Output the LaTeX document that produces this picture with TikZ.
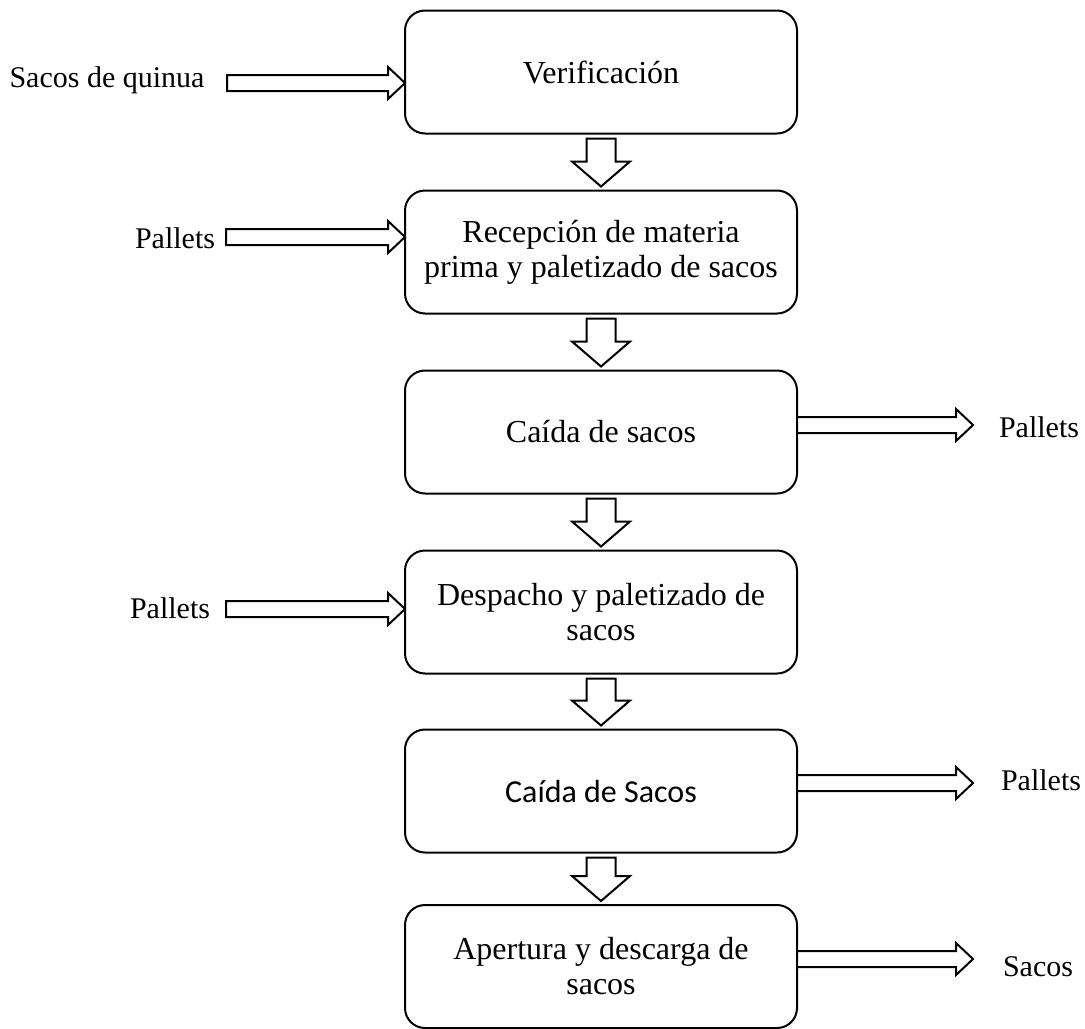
\documentclass[tikz,border=0pt]{standalone}
\usepackage{fontspec}
\setmainfont{Liberation Serif}
\newfontfamily\calibri{Carlito}
\usetikzlibrary{calc}

% flecha de bloque horizontal, de #1 hasta #2
\newcommand{\hflecha}[2]{%
  \draw[flecha] let \p1=(#1), \p2=(#2) in
    (\x1,{\y1+4pt}) -- ({\x2-8.5pt},{\y1+4pt}) -- ({\x2-8.5pt},{\y1+8pt}) -- (\x2,\y1)
    -- ({\x2-8.5pt},{\y1-8pt}) -- ({\x2-8.5pt},{\y1-4pt}) -- (\x1,{\y1-4pt}) -- cycle;}
% flecha de bloque vertical, de la caja #1 a la caja #2
\newcommand{\vflecha}[2]{%
  \draw[flecha] let \p1=($(#1.south)+(0,-2.5pt)$), \p2=($(#2.north)+(0,2pt)$) in
    ({\x1-7.25pt},\y1) -- ({\x1+7.25pt},\y1) -- ({\x1+7.25pt},{\y2+12.5pt}) -- ({\x1+14.5pt},{\y2+12.5pt})
    -- (\x1,\y2) -- ({\x1-14.5pt},{\y2+12.5pt}) -- ({\x1-7.25pt},{\y2+12.5pt}) -- cycle;}

\begin{document}
\begin{tikzpicture}[x=0.5pt,y=-0.5pt,line width=1pt,
    caja/.style={draw,rounded corners=10pt,minimum width=196pt,minimum height=61.5pt,
      align=center,outer sep=0pt,font=\fontsize{16pt}{17.5pt}\selectfont},
    etiqueta/.style={inner sep=0pt,font=\fontsize{15pt}{17pt}\selectfont},
    flecha/.style={draw,fill=white,line join=miter}]
  \useasboundingbox (0,0) rectangle (1085,1028);

  % cajas del proceso
  \node[caja] (ver) at (601,72) {Verificación};
  \node[caja] (rec) at (601,252) {Recepción de materia\\prima y paletizado de sacos};
  \node[caja] (cai1) at (601,432) {Caída de sacos};
  \node[caja] (des) at (601,612) {Despacho y paletizado de\\sacos};
  \node[caja] (cai2) at (601,791) {{\calibri Caída de Sacos}};
  \node[caja] (ape) at (601,966.5) {Apertura y descarga de\\sacos};

  \vflecha{ver}{rec}
  \vflecha{rec}{cai1}
  \vflecha{cai1}{des}
  \vflecha{des}{cai2}
  \vflecha{cai2}{ape}

  % entradas
  \node[etiqueta] (sq) at (107,80) {Sacos de quinua};
  \node[etiqueta] (pe1) at (175,238) {Pallets};
  \node[etiqueta] (pe2) at (170,608) {Pallets};
  \coordinate (e1) at (227,83);
  \coordinate (e2) at (226,237);
  \coordinate (e3) at (226,609);
  \hflecha{e1}{ver.west}
  \hflecha{e2}{rec.west}
  \hflecha{e3}{des.west}

  % salidas
  \node[etiqueta,anchor=west] (ps1) at (998,427) {Pallets};
  \node[etiqueta,anchor=west] (ps2) at (1000,780) {Pallets};
  \node[etiqueta,anchor=west] (ss) at (1002,967) {Sacos};
  \coordinate (s1) at (973,425);
  \coordinate (s2) at (973,783);
  \coordinate (s3) at (973,959);
  \hflecha{cai1.east |- s1}{s1}
  \hflecha{cai2.east |- s2}{s2}
  \hflecha{ape.east |- s3}{s3}
\end{tikzpicture}
\end{document}
